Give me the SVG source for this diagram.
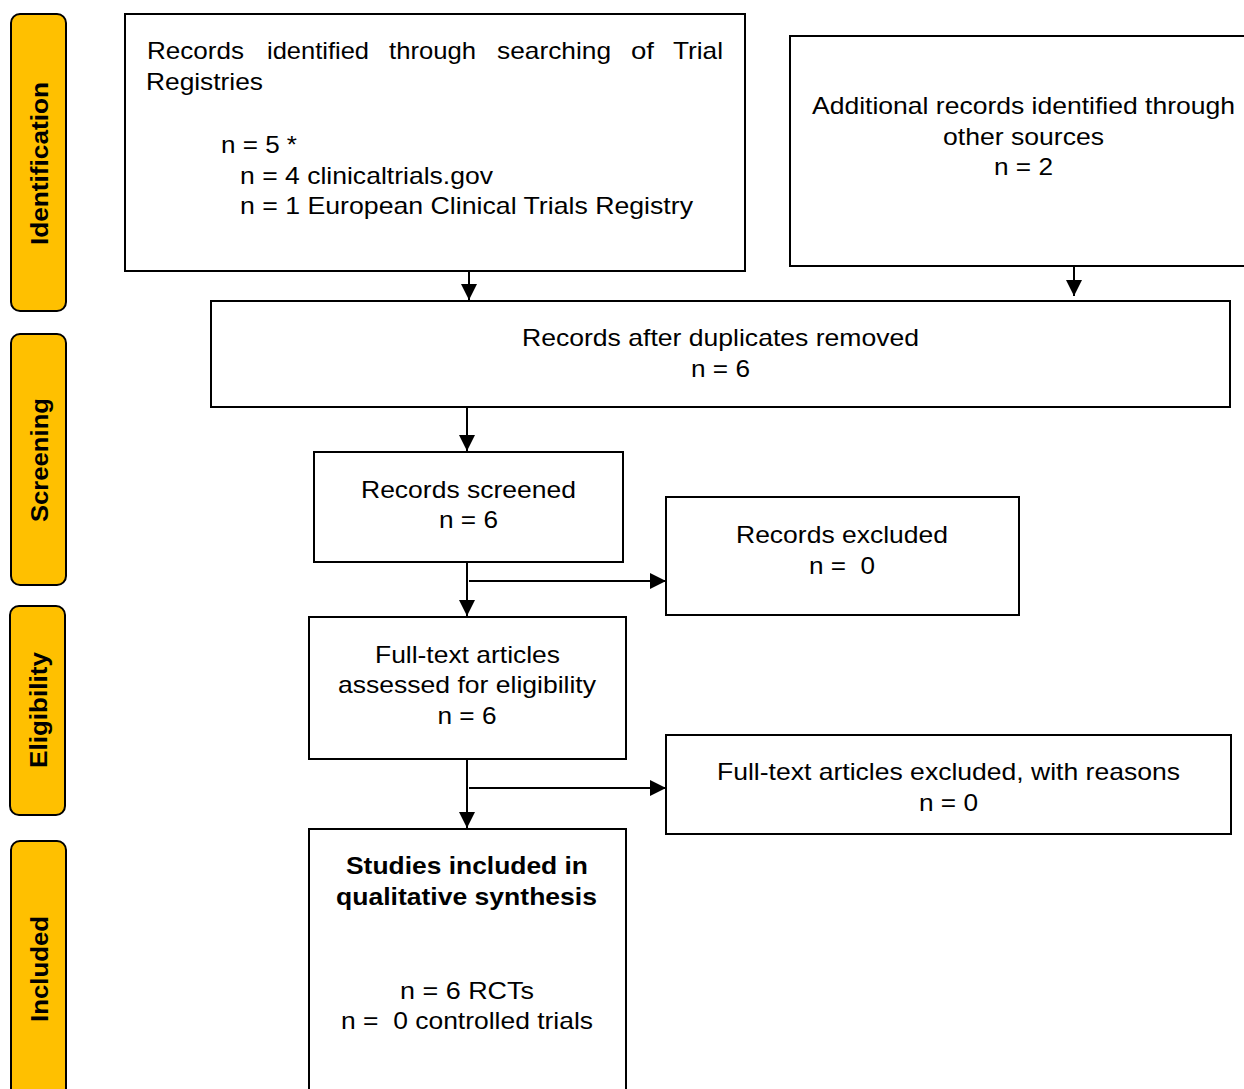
<svg xmlns="http://www.w3.org/2000/svg" width="1244" height="1089" viewBox="0 0 1244 1089">
<defs>
<marker id="arr" viewBox="0 0 14 14" refX="14" refY="7" markerWidth="16" markerHeight="16" markerUnits="userSpaceOnUse" orient="auto">
<path d="M0,0 L14,7 L0,14 Z" fill="#000"/>
</marker>
</defs>
<style>
.box{fill:#fff;stroke:#000;stroke-width:2}
.side{fill:#FFC000;stroke:#000;stroke-width:2}
.t{font-family:"Liberation Sans",Arial,sans-serif;font-size:24px;fill:#000}
.c{text-anchor:middle}
.b{font-weight:bold}
.sl{font-family:"Liberation Sans",Arial,sans-serif;font-size:24px;font-weight:bold;fill:#000;text-anchor:middle}
.con{stroke:#000;stroke-width:2;fill:none}
</style>
<rect width="1244" height="1089" fill="#fff"/>
<g id="side-identification">
<rect class="side" x="11" y="14" width="55" height="297" rx="9"/>
<text class="sl" transform="translate(48,163.5) rotate(-90)" textLength="163" lengthAdjust="spacingAndGlyphs">Identification</text>
</g>
<g id="side-screening">
<rect class="side" x="11" y="334" width="55" height="251" rx="9"/>
<text class="sl" transform="translate(48,460) rotate(-90)" textLength="124" lengthAdjust="spacingAndGlyphs">Screening</text>
</g>
<g id="side-eligibility">
<rect class="side" x="10" y="606" width="55" height="209" rx="9"/>
<text class="sl" transform="translate(47,710) rotate(-90)" textLength="116" lengthAdjust="spacingAndGlyphs">Eligibility</text>
</g>
<g id="side-included">
<rect class="side" x="11" y="841" width="55" height="260" rx="9"/>
<text class="sl" transform="translate(48,969) rotate(-90)" textLength="106" lengthAdjust="spacingAndGlyphs">Included</text>
</g>
<g id="n-trials">
<rect class="box" x="125" y="14" width="620" height="257"/>
<text class="t" y="59"><tspan x="147" textLength="97" lengthAdjust="spacingAndGlyphs">Records</tspan><tspan x="267" textLength="102" lengthAdjust="spacingAndGlyphs">identified</tspan><tspan x="389" textLength="87" lengthAdjust="spacingAndGlyphs">through</tspan><tspan x="497" textLength="114" lengthAdjust="spacingAndGlyphs">searching</tspan><tspan x="631" textLength="23" lengthAdjust="spacingAndGlyphs">of</tspan><tspan x="673" textLength="50" lengthAdjust="spacingAndGlyphs">Trial</tspan></text>
<text class="t" x="146" y="90" textLength="117" lengthAdjust="spacingAndGlyphs">Registries</text>
<text class="t" x="221" y="153" textLength="76" lengthAdjust="spacingAndGlyphs">n = 5 *</text>
<text class="t" x="240" y="184" textLength="253" lengthAdjust="spacingAndGlyphs">n = 4 clinicaltrials.gov</text>
<text class="t" x="240" y="214" textLength="453" lengthAdjust="spacingAndGlyphs">n = 1 European Clinical Trials Registry</text>
</g>
<g id="n-additional">
<rect class="box" x="790" y="36" width="470" height="230" stroke="#444"/>
<text class="t c" x="1023.5" y="114" textLength="423" lengthAdjust="spacingAndGlyphs">Additional records identified through</text>
<text class="t c" x="1023.5" y="145" textLength="161" lengthAdjust="spacingAndGlyphs">other sources</text>
<text class="t c" x="1023.5" y="175" textLength="59" lengthAdjust="spacingAndGlyphs">n = 2</text>
</g>
<g id="n-duplicates">
<rect class="box" x="211" y="301" width="1019" height="106"/>
<text class="t c" x="720.5" y="346" textLength="397" lengthAdjust="spacingAndGlyphs">Records after duplicates removed</text>
<text class="t c" x="720.5" y="377" textLength="59" lengthAdjust="spacingAndGlyphs">n = 6</text>
</g>
<g id="n-screened">
<rect class="box" x="314" y="452" width="309" height="110"/>
<text class="t c" x="468.5" y="498" textLength="215" lengthAdjust="spacingAndGlyphs">Records screened</text>
<text class="t c" x="468.5" y="528" textLength="59" lengthAdjust="spacingAndGlyphs">n = 6</text>
</g>
<g id="n-excluded">
<rect class="box" x="666" y="497" width="353" height="118"/>
<text class="t c" x="842" y="543" textLength="212" lengthAdjust="spacingAndGlyphs">Records excluded</text>
<text class="t c" x="842" y="574" textLength="66" lengthAdjust="spacingAndGlyphs" xml:space="preserve">n =  0</text>
</g>
<g id="n-fulltext">
<rect class="box" x="309" y="617" width="317" height="142"/>
<text class="t c" x="467.5" y="663" textLength="185" lengthAdjust="spacingAndGlyphs">Full-text articles</text>
<text class="t c" x="467" y="693" textLength="258" lengthAdjust="spacingAndGlyphs">assessed for eligibility</text>
<text class="t c" x="467" y="724" textLength="59" lengthAdjust="spacingAndGlyphs">n = 6</text>
</g>
<g id="n-ftexcluded">
<rect class="box" x="666" y="735" width="565" height="99"/>
<text class="t c" x="948.5" y="780" textLength="463" lengthAdjust="spacingAndGlyphs">Full-text articles excluded, with reasons</text>
<text class="t c" x="948.5" y="811" textLength="59" lengthAdjust="spacingAndGlyphs">n = 0</text>
</g>
<g id="n-included">
<rect class="box" x="309" y="829" width="317" height="280"/>
<text class="t c b" x="467" y="874" textLength="242" lengthAdjust="spacingAndGlyphs">Studies included in</text>
<text class="t c b" x="466.5" y="905" textLength="261" lengthAdjust="spacingAndGlyphs">qualitative synthesis</text>
<text class="t c" x="467" y="999" textLength="134" lengthAdjust="spacingAndGlyphs">n = 6 RCTs</text>
<text class="t c" x="467" y="1029" textLength="252" lengthAdjust="spacingAndGlyphs" xml:space="preserve">n =  0 controlled trials</text>
</g>
<g id="connectors">
<line class="con" x1="469" y1="271" x2="469" y2="300" marker-end="url(#arr)"/>
<line class="con" x1="1074" y1="266" x2="1074" y2="296" marker-end="url(#arr)"/>
<line class="con" x1="467" y1="407" x2="467" y2="451" marker-end="url(#arr)"/>
<line class="con" x1="467" y1="562" x2="467" y2="616" marker-end="url(#arr)"/>
<line class="con" x1="469" y1="581" x2="666" y2="581" marker-end="url(#arr)"/>
<line class="con" x1="467" y1="759" x2="467" y2="828" marker-end="url(#arr)"/>
<line class="con" x1="469" y1="788" x2="666" y2="788" marker-end="url(#arr)"/>
</g>
</svg>
